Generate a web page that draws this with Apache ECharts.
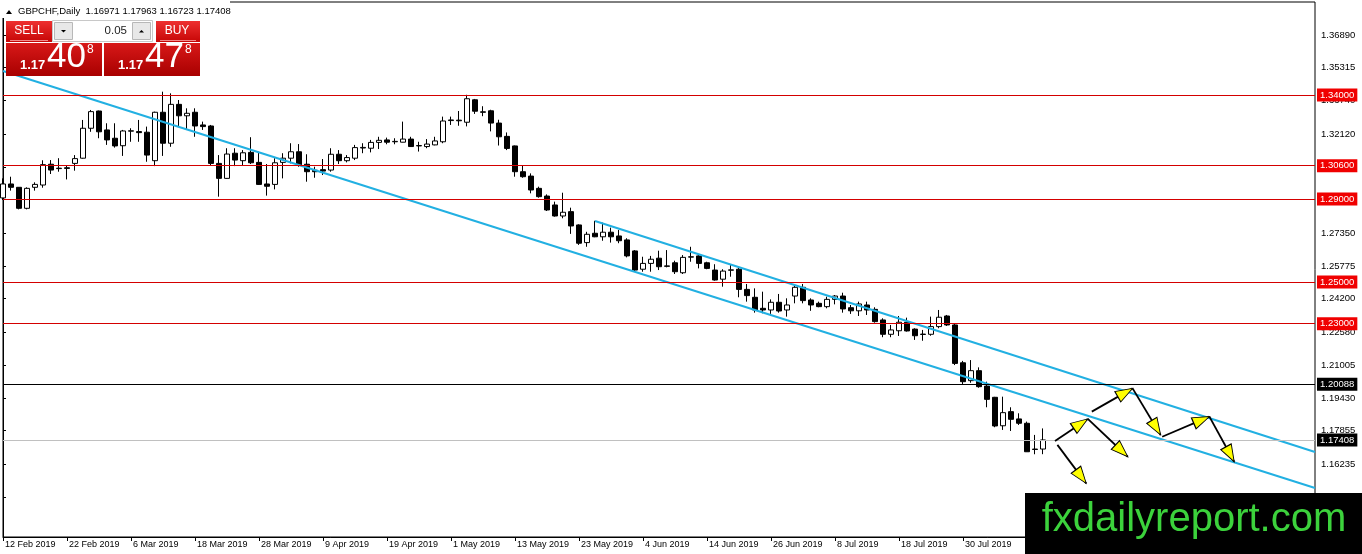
<!DOCTYPE html>
<html>
<head>
<meta charset="utf-8">
<title>GBPCHF Daily</title>
<script src="https://cdn.jsdelivr.net/npm/echarts@6/dist/echarts.min.js"></script>
<style>
  html, body { margin: 0; padding: 0; background: #fff; }
  #chart { width: 1362px; height: 554px; }
</style>
</head>
<body>
<div id="chart"></div>
<script>
// daily bars from 12 Feb 2019, weekdays only
var openPrices = [
  1.2905, 1.2972, 1.2956, 1.2855, 1.2956, 1.2967, 1.3067, 1.3048, 1.3050, 1.3071,
  1.3096, 1.3240, 1.3323, 1.3232, 1.3192, 1.3156, 1.3226, 1.3224, 1.3221, 1.3084,
  1.3317, 1.3168, 1.3355, 1.3300, 1.3317, 1.3256, 1.3251, 1.3071, 1.2999, 1.3120,
  1.3084, 1.3124, 1.3076, 1.2972, 1.2970, 1.3076, 1.3096, 1.3127, 1.3067, 1.3038,
  1.3041, 1.3039, 1.3115, 1.3084, 1.3096, 1.3145, 1.3144, 1.3172, 1.3184, 1.3175,
  1.3173, 1.3188, 1.3155, 1.3152, 1.3160, 1.3175, 1.3277, 1.3279, 1.3269, 1.3377,
  1.3319, 1.3324, 1.3265, 1.3201, 1.3155, 1.3031, 1.3010, 1.2951, 1.2914, 1.2871,
  1.2818, 1.2839, 1.2775, 1.2690, 1.2735, 1.2718, 1.2740, 1.2722, 1.2703, 1.2650,
  1.2562, 1.2590, 1.2615, 1.2578, 1.2593, 1.2545, 1.2620, 1.2626, 1.2593, 1.2558,
  1.2514, 1.2557, 1.2562, 1.2465, 1.2427, 1.2374, 1.2366, 1.2403, 1.2366, 1.2433,
  1.2475, 1.2414, 1.2398, 1.2382, 1.2417, 1.2433, 1.2377, 1.2362, 1.2390, 1.2369,
  1.2318, 1.2249, 1.2266, 1.2307, 1.2274, 1.2248, 1.2249, 1.2286, 1.2337, 1.2294,
  1.2112, 1.2026, 1.2074, 1.2000, 1.1946, 1.1809, 1.1877, 1.1842, 1.1821, 1.1697,
  1.16971
];
var highPrices = [
  1.2999, 1.3007, 1.2957, 1.2956, 1.2980, 1.3086, 1.3087, 1.3096, 1.3063, 1.3111,
  1.3280, 1.3328, 1.3325, 1.3264, 1.3264, 1.3232, 1.3240, 1.3280, 1.3248, 1.3320,
  1.3416, 1.3408, 1.3376, 1.3336, 1.3336, 1.3272, 1.3256, 1.3111, 1.3144, 1.3144,
  1.3135, 1.3197, 1.3127, 1.3068, 1.3096, 1.3120, 1.3168, 1.3164, 1.3115, 1.3055,
  1.3092, 1.3144, 1.3135, 1.3111, 1.3160, 1.3168, 1.3184, 1.3199, 1.3195, 1.3192,
  1.3272, 1.3199, 1.3175, 1.3188, 1.3199, 1.3296, 1.3296, 1.3323, 1.3401, 1.3381,
  1.3346, 1.3329, 1.3281, 1.3220, 1.3157, 1.3063, 1.3023, 1.2959, 1.2922, 1.2887,
  1.2930, 1.2858, 1.2778, 1.2742, 1.2795, 1.2786, 1.2762, 1.2751, 1.2711, 1.2654,
  1.2622, 1.2626, 1.2651, 1.2654, 1.2603, 1.2630, 1.2670, 1.2630, 1.2598, 1.2586,
  1.2562, 1.2582, 1.2574, 1.2491, 1.2470, 1.2454, 1.2417, 1.2443, 1.2422, 1.2486,
  1.2491, 1.2422, 1.2406, 1.2430, 1.2438, 1.2449, 1.2390, 1.2406, 1.2406, 1.2379,
  1.2326, 1.2294, 1.2337, 1.2329, 1.2278, 1.2270, 1.2334, 1.2366, 1.2342, 1.2302,
  1.2121, 1.2125, 1.2090, 1.2021, 1.1948, 1.1949, 1.1898, 1.1869, 1.1829, 1.1765,
  1.17963
];
var lowPrices = [
  1.2895, 1.2940, 1.2850, 1.2850, 1.2940, 1.2954, 1.3020, 1.3031, 1.2994, 1.3036,
  1.3094, 1.3223, 1.3192, 1.3160, 1.3147, 1.3107, 1.3175, 1.3175, 1.3079, 1.3058,
  1.3107, 1.3151, 1.3251, 1.3232, 1.3199, 1.3232, 1.3063, 1.2911, 1.2997, 1.3058,
  1.3063, 1.3068, 1.2968, 1.2916, 1.2946, 1.2999, 1.3071, 1.3055, 1.2983, 1.3002,
  1.3015, 1.3031, 1.3068, 1.3076, 1.3087, 1.3120, 1.3124, 1.3140, 1.3163, 1.3163,
  1.3172, 1.3151, 1.3128, 1.3144, 1.3158, 1.3168, 1.3256, 1.3252, 1.3249, 1.3309,
  1.3298, 1.3225, 1.3157, 1.3135, 1.3007, 1.3002, 1.2927, 1.2906, 1.2842, 1.2815,
  1.2807, 1.2732, 1.2679, 1.2670, 1.2716, 1.2699, 1.2690, 1.2687, 1.2619, 1.2550,
  1.2550, 1.2550, 1.2558, 1.2571, 1.2539, 1.2539, 1.2598, 1.2566, 1.2562, 1.2507,
  1.2478, 1.2526, 1.2427, 1.2406, 1.2353, 1.2350, 1.2347, 1.2353, 1.2334, 1.2398,
  1.2398, 1.2362, 1.2379, 1.2374, 1.2393, 1.2353, 1.2347, 1.2337, 1.2342, 1.2305,
  1.2235, 1.2235, 1.2241, 1.2262, 1.2222, 1.2218, 1.2242, 1.2278, 1.2289, 1.2101,
  1.2010, 1.2016, 1.1992, 1.1898, 1.1802, 1.1789, 1.1784, 1.1813, 1.1683, 1.1672,
  1.16723
];
var closePrices = [
  1.2972, 1.2956, 1.2855, 1.2951, 1.2970, 1.3065, 1.3039, 1.3046, 1.3047, 1.3094,
  1.3240, 1.3320, 1.3223, 1.3184, 1.3155, 1.3227, 1.3228, 1.3219, 1.3111, 1.3317,
  1.3168, 1.3355, 1.3300, 1.3312, 1.3251, 1.3248, 1.3071, 1.2999, 1.3116, 1.3087,
  1.3122, 1.3074, 1.2970, 1.2961, 1.3074, 1.3096, 1.3127, 1.3063, 1.3031, 1.3031,
  1.3034, 1.3115, 1.3084, 1.3099, 1.3147, 1.3148, 1.3172, 1.3182, 1.3173, 1.3177,
  1.3188, 1.3152, 1.3157, 1.3164, 1.3179, 1.3275, 1.3280, 1.3276, 1.3382, 1.3322,
  1.3317, 1.3265, 1.3199, 1.3143, 1.3031, 1.3007, 1.2943, 1.2911, 1.2847, 1.2818,
  1.2836, 1.2770, 1.2687, 1.2730, 1.2718, 1.2740, 1.2718, 1.2699, 1.2626, 1.2558,
  1.2590, 1.2610, 1.2574, 1.2576, 1.2550, 1.2619, 1.2622, 1.2590, 1.2566, 1.2510,
  1.2553, 1.2559, 1.2465, 1.2435, 1.2366, 1.2366, 1.2403, 1.2361, 1.2390, 1.2475,
  1.2411, 1.2390, 1.2382, 1.2417, 1.2433, 1.2371, 1.2362, 1.2395, 1.2366, 1.2310,
  1.2249, 1.2270, 1.2307, 1.2265, 1.2242, 1.2250, 1.2286, 1.2331, 1.2294, 1.2109,
  1.2021, 1.2074, 1.1997, 1.1936, 1.1808, 1.1872, 1.1840, 1.1821, 1.1684, 1.1695,
  1.17408
];

// price scale labels (MT4 steps)
var priceTicks = [1.36890, 1.35315, 1.33740, 1.32120, 1.30545, 1.28970, 1.27350, 1.25775,
                  1.24200, 1.22580, 1.21005, 1.19430, 1.17855, 1.16235, 1.14660];
var priceLabels = [1.36890, 1.35315, 1.33740, 1.32120, 1.27350, 1.25775,
                   1.24200, 1.22580, 1.21005, 1.19430, 1.17855, 1.16235, 1.14660];

var redLevels = [1.34000, 1.30600, 1.29000, 1.25000, 1.23000];
var blackLevel = 1.20088;
var bidLevel = 1.17408;

// trend channel, [bar index, price]
var channelLower = [[0, 1.35154], [164, 1.15097]];
var channelUpper = [[74, 1.27939], [164, 1.16828]];

// projected path arrows, [bar index, price]
var arrowFrom = [[131.5, 1.1736], [131.8, 1.1717], [136.1, 1.1877], [135.6, 1.1842],
                 [141.2, 1.1989], [144.9, 1.1756], [150.8, 1.1853]];
var arrowTo   = [[135.6, 1.1842], [135.4, 1.1532], [141.2, 1.1989], [140.6, 1.1660],
                 [144.7, 1.1765], [150.8, 1.1853], [153.9, 1.1636]];

var barCount = 165;
var monthNames = ['Jan', 'Feb', 'Mar', 'Apr', 'May', 'Jun', 'Jul', 'Aug', 'Sep', 'Oct', 'Nov', 'Dec'];
var dates = [];
for (var t = Date.UTC(2019, 1, 12); dates.length < barCount; t += 86400000) {
  var d = new Date(t);
  var wd = d.getUTCDay();
  if (wd === 0 || wd === 6) continue;
  dates.push(d.getUTCDate() + ' ' + monthNames[d.getUTCMonth()] + ' ' + d.getUTCFullYear());
}

var candles = [];
for (var i = 0; i < openPrices.length; i++) {
  candles.push([openPrices[i], closePrices[i], lowPrices[i], highPrices[i]]);
}

var font = '"Liberation Sans", Arial, sans-serif';
var fmt5 = function (v) { return Number(v).toFixed(5); };
var showDate = function (index) { return index % 8 === 0 && index <= 120; };

function levelLine(value, lineColor, boxColor) {
  return {
    yAxis: value,
    lineStyle: { color: lineColor, width: 1, type: 'solid', opacity: 1 },
    label: {
      show: true, position: 'end', distance: 2, formatter: fmt5(value),
      color: '#fff', backgroundColor: boxColor, padding: [2, 3, 1, 3],
      fontSize: 9.5, fontFamily: font
    }
  };
}

var levelData = redLevels.map(function (v) { return levelLine(v, '#d40000', '#f00000'); });
levelData.push(levelLine(blackLevel, '#000000', '#000000'));
levelData.push(levelLine(bidLevel, '#c0c0c0', '#000000'));

function grad(top, bottom) {
  return new echarts.graphic.LinearGradient(0, 0, 0, 1, [
    { offset: 0, color: top }, { offset: 1, color: bottom }
  ]);
}
function txt(x, y, s, size, opts) {
  opts = opts || {};
  return {
    type: 'text', z: 101,
    style: {
      x: x, y: y, text: s, fill: opts.fill || '#fff',
      font: (opts.bold ? 'bold ' : '') + size + 'px ' + font,
      align: opts.align || 'left', verticalAlign: 'middle'
    }
  };
}
function box(x, y, w, h, fill, stroke) {
  return {
    type: 'rect', z: 100,
    shape: { x: x, y: y, width: w, height: h },
    style: { fill: fill, stroke: stroke || null, lineWidth: 1 }
  };
}

var panel = [
  box(0, 0, 230, 18, '#ffffff'),
  { type: 'polygon', z: 101, shape: { points: [[6, 14], [9, 10], [12, 14]] }, style: { fill: '#000' } },
  txt(18, 11, 'GBPCHF,Daily  1.16971 1.17963 1.16723 1.17408', 9.5, { fill: '#000' }),
  box(6, 21, 46, 21, grad('#ee3030', '#c60606')),
  txt(29, 31, 'SELL', 12, { align: 'center' }),
  { type: 'line', z: 101, shape: { x1: 10, y1: 40.5, x2: 48, y2: 40.5 }, style: { stroke: '#f28a8a', lineWidth: 1 } },
  box(52.5, 20.5, 100, 21, '#ffffff', '#c8c8c8'),
  box(54.5, 22.5, 18, 17, '#e8e8e8', '#b8b8b8'),
  { type: 'polygon', z: 101, shape: { points: [[61, 30], [66, 30], [63.5, 32.5]] }, style: { fill: '#000' } },
  box(132.5, 22.5, 18, 17, '#e8e8e8', '#b8b8b8'),
  { type: 'polygon', z: 101, shape: { points: [[139, 32.5], [144, 32.5], [141.5, 30]] }, style: { fill: '#000' } },
  txt(127, 31, '0.05', 11.5, { fill: '#222', align: 'right' }),
  box(156, 21, 44, 21, grad('#ee3030', '#c60606')),
  txt(177, 31, 'BUY', 12, { align: 'center' }),
  { type: 'line', z: 101, shape: { x1: 160, y1: 40.5, x2: 196, y2: 40.5 }, style: { stroke: '#f28a8a', lineWidth: 1 } },
  box(6, 43, 96, 33, grad('#d81818', '#a80000')),
  box(104, 43, 96, 33, grad('#d81818', '#a80000')),
  txt(20, 65, '1.17', 13, { bold: true }),
  txt(47, 57, '40', 35),
  txt(87, 50, '8', 12),
  txt(118, 65, '1.17', 13, { bold: true }),
  txt(145, 57, '47', 35),
  txt(185, 50, '8', 12),
  // watermark
  box(1025, 493, 337, 61, '#000000'),
  txt(1194, 520, 'fxdailyreport.com', 40, { fill: '#3cd23c', align: 'center' })
];

var option = {
  animation: false,
  backgroundColor: '#ffffff',
  textStyle: { fontFamily: font },
  grid: { left: 3, right: 47, top: 2, bottom: 17, show: true, borderColor: '#000', borderWidth: 1 },
  xAxis: [
    {
      type: 'category', data: dates, boundaryGap: false,
      axisLine: { lineStyle: { color: '#000', width: 1 } },
      axisTick: { interval: showDate, length: 4, lineStyle: { color: '#000' } },
      axisLabel: { interval: showDate, align: 'left', margin: 3, fontSize: 9, color: '#000', padding: [0, 0, 0, 2] },
      splitLine: { show: false }
    },
    { type: 'value', min: 0, max: barCount - 1, show: false }
  ],
  yAxis: {
    type: 'value', position: 'right', scale: true,
    min: 1.127398, max: 1.384733,
    axisLine: { show: true, lineStyle: { color: '#000', width: 1 } },
    axisTick: { show: true, length: 3, customValues: priceTicks, lineStyle: { color: '#000' } },
    axisLabel: { customValues: priceLabels, formatter: fmt5, margin: 6, fontSize: 9.5, color: '#000' },
    splitLine: { show: false }
  },
  graphic: { elements: panel },
  series: [
    {
      type: 'candlestick', name: 'GBPCHF', data: candles, barWidth: 5, z: 3,
      itemStyle: { color: '#ffffff', color0: '#000000', borderColor: '#000000', borderColor0: '#000000', borderWidth: 1 },
      markLine: { symbol: 'none', silent: true, animation: false, precision: 5, data: levelData }
    },
    {
      type: 'line', xAxisIndex: 1, data: channelLower, showSymbol: false, z: 4,
      lineStyle: { color: '#22b0e2', width: 2 }
    },
    {
      type: 'line', xAxisIndex: 1, data: channelUpper, showSymbol: false, z: 4,
      lineStyle: { color: '#22b0e2', width: 2 }
    },
    {
      type: 'lines', coordinateSystem: 'cartesian2d', xAxisIndex: 1, yAxisIndex: 0, z: 5,
      lineStyle: { color: '#000', width: 1.8, opacity: 1 },
      data: arrowFrom.map(function (p, k) { return { coords: [p, arrowTo[k]] }; })
    },
    {
      id: 'arrowHeads', type: 'scatter', xAxisIndex: 1, z: 6, symbol: 'triangle', symbolSize: [12, 17],
      itemStyle: { color: '#ffff00', borderColor: '#000', borderWidth: 1, opacity: 1 },
      data: []
    }
  ]
};

var chart = echarts.init(document.getElementById('chart'));
chart.setOption(option);

// place the yellow heads at the tips, pointing along each arrow
var headLength = 17;
var finder = { xAxisIndex: 1, yAxisIndex: 0 };
var heads = arrowTo.map(function (tip, k) {
  var a = chart.convertToPixel(finder, arrowFrom[k]);
  var b = chart.convertToPixel(finder, tip);
  var dx = b[0] - a[0], dy = b[1] - a[1];
  var len = Math.sqrt(dx * dx + dy * dy);
  var c = [b[0] - dx / len * headLength / 2, b[1] - dy / len * headLength / 2];
  return {
    value: chart.convertFromPixel(finder, c),
    symbolRotate: Math.atan2(-dx, -dy) * 180 / Math.PI
  };
});
chart.setOption({ series: [{ id: 'arrowHeads', data: heads }] });
</script>
</body>
</html>
